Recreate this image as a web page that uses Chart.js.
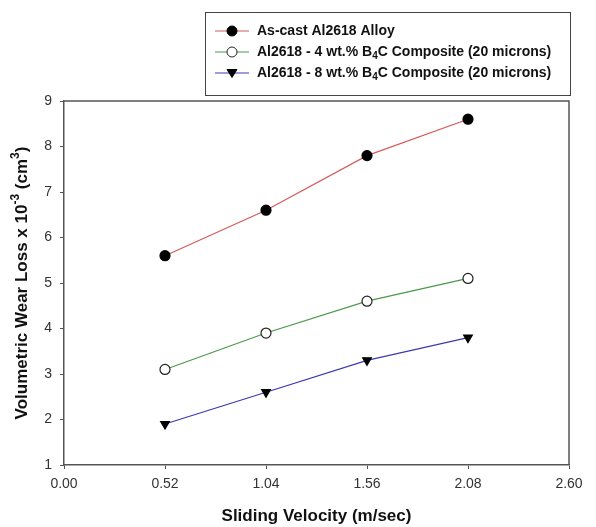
<!DOCTYPE html>
<html>
<head>
<meta charset="utf-8">
<script src="https://cdn.jsdelivr.net/npm/chart.js@4.4.1/dist/chart.umd.min.js"></script>
<style>
  html, body { margin: 0; padding: 0; background: #fff; }
  #wrap { width: 596px; height: 527px; }
</style>
</head>
<body>
<div id="wrap"><canvas id="wearChart" width="596" height="527"></canvas></div>
<script>
// sliding velocity (m/sec)
const velocities = [0.52, 1.04, 1.56, 2.08];
const xTickValues = [0, 0.52, 1.04, 1.56, 2.08, 2.60];
const yTickValues = [1, 2, 3, 4, 5, 6, 7, 8, 9];

// volumetric wear loss x 10^-3 (cm^3)
const asCast = [5.6, 6.6, 7.8, 8.6];
const comp4 = [3.1, 3.9, 4.6, 5.1];
const comp8 = [1.9, 2.6, 3.3, 3.8];

// legend labels, parts with sub = subscript
const legendLabels = [
    [{ t: 'As-cast Al2618 Alloy' }],
    [{ t: 'Al2618 - 4 wt.% B' }, { t: '4', sub: true }, { t: 'C Composite (20 microns)' }],
    [{ t: 'Al2618 - 8 wt.% B' }, { t: '4', sub: true }, { t: 'C Composite (20 microns)' }]
];

const FONT = '"Liberation Sans", Arial, Helvetica, sans-serif';
const axisColor = '#555';

function toPoints(values) {
    return values.map((v, i) => ({ x: velocities[i], y: v }));
}

// draws text made of pieces, some raised or lowered
function drawRichText(ctx, parts, x, y, size, align) {
    const smallSize = Math.round(size * 0.7);
    let total = 0;
    parts.forEach(p => {
        ctx.font = `bold ${p.sub || p.sup ? smallSize : size}px ${FONT}`;
        total += ctx.measureText(p.t).width;
    });
    let cx = align === 'center' ? x - total / 2 : x;
    ctx.textAlign = 'left';
    ctx.textBaseline = 'middle';
    parts.forEach(p => {
        ctx.font = `bold ${p.sub || p.sup ? smallSize : size}px ${FONT}`;
        let dy = 0;
        if (p.sup) dy = -size * 0.4;
        if (p.sub) dy = size * 0.3;
        ctx.fillText(p.t, cx, y + dy);
        cx += ctx.measureText(p.t).width;
    });
}

const decorPlugin = {
    id: 'decor',
    afterDraw(chart) {
        const ctx = chart.ctx;
        const area = chart.chartArea;
        ctx.save();

        // frame on top and right
        ctx.strokeStyle = axisColor;
        ctx.lineWidth = 1.5;
        ctx.beginPath();
        ctx.moveTo(area.left, area.top);
        ctx.lineTo(area.right, area.top);
        ctx.lineTo(area.right, area.bottom);
        ctx.stroke();

        // axis titles
        ctx.fillStyle = '#111';
        drawRichText(ctx, [{ t: 'Sliding Velocity (m/sec)' }], (area.left + area.right) / 2, 516, 17, 'center');

        ctx.save();
        ctx.translate(22, (area.top + area.bottom) / 2);
        ctx.rotate(-Math.PI / 2);
        drawRichText(ctx, [
            { t: 'Volumetric Wear Loss x 10' }, { t: '-3', sup: true },
            { t: ' (cm' }, { t: '3', sup: true }, { t: ')' }
        ], 0, 0, 17, 'center');
        ctx.restore();

        // legend box
        ctx.strokeStyle = '#444';
        ctx.lineWidth = 1;
        ctx.strokeRect(205.5, 12.5, 365, 83);
        chart.data.datasets.forEach((ds, i) => {
            const rowY = 31 + i * 21;
            ctx.strokeStyle = ds.borderColor;
            ctx.lineWidth = 1;
            ctx.beginPath();
            ctx.moveTo(215, rowY);
            ctx.lineTo(249, rowY);
            ctx.stroke();
            drawMarker(ctx, ds, 232, rowY);
            ctx.fillStyle = '#111';
            drawRichText(ctx, legendLabels[i], 257, rowY, 14, 'left');
        });
        ctx.restore();
    }
};

function drawMarker(ctx, ds, x, y) {
    ctx.fillStyle = ds.pointBackgroundColor;
    ctx.strokeStyle = ds.pointBorderColor;
    ctx.lineWidth = 1;
    ctx.beginPath();
    if (ds.pointStyle === 'triangle') {
        const r = ds.pointRadius;
        ctx.moveTo(x - r, y - r * 0.7);
        ctx.lineTo(x + r, y - r * 0.7);
        ctx.lineTo(x, y + r * 0.9);
        ctx.closePath();
    } else {
        ctx.arc(x, y, ds.pointRadius, 0, Math.PI * 2);
    }
    ctx.fill();
    ctx.stroke();
}

new Chart(document.getElementById('wearChart'), {
    type: 'line',
    data: {
        datasets: [{
            label: 'As-cast Al2618 Alloy',
            data: toPoints(asCast),
            borderColor: '#d45a5a',
            borderWidth: 1.2,
            pointStyle: 'circle',
            pointRadius: 5,
            pointBackgroundColor: '#000',
            pointBorderColor: '#000'
        }, {
            label: 'Al2618 - 4 wt.% B4C Composite (20 microns)',
            data: toPoints(comp4),
            borderColor: '#4a9a4a',
            borderWidth: 1.2,
            pointStyle: 'circle',
            pointRadius: 5,
            pointBackgroundColor: '#fff',
            pointBorderColor: '#222'
        }, {
            label: 'Al2618 - 8 wt.% B4C Composite (20 microns)',
            data: toPoints(comp8),
            borderColor: '#3a3ab0',
            borderWidth: 1.2,
            pointStyle: 'triangle',
            pointRotation: 180,
            pointRadius: 5,
            pointBackgroundColor: '#000',
            pointBorderColor: '#000'
        }]
    },
    options: {
        responsive: false,
        animation: false,
        layout: { padding: { top: 101, right: 27, left: 0, bottom: 0 } },
        plugins: {
            legend: { display: false },
            tooltip: { enabled: false }
        },
        scales: {
            x: {
                type: 'linear',
                min: 0,
                max: 2.6,
                afterFit(scale) { scale.height = 62; },
                afterBuildTicks(scale) { scale.ticks = xTickValues.map(v => ({ value: v })); },
                ticks: {
                    color: '#333',
                    font: { family: FONT, size: 14 },
                    padding: 7,
                    maxRotation: 0,
                    autoSkip: false,
                    callback: v => v.toFixed(2)
                },
                grid: { drawOnChartArea: false, drawTicks: true, tickLength: 4, tickColor: axisColor },
                border: { display: true, color: axisColor, width: 1.5 }
            },
            y: {
                type: 'linear',
                min: 1,
                max: 9,
                afterFit(scale) { scale.width = 64; },
                afterBuildTicks(scale) { scale.ticks = yTickValues.map(v => ({ value: v })); },
                ticks: {
                    color: '#333',
                    font: { family: FONT, size: 14 },
                    padding: 8,
                    autoSkip: false
                },
                grid: { drawOnChartArea: false, drawTicks: true, tickLength: 4, tickColor: axisColor },
                border: { display: true, color: axisColor, width: 1.5 }
            }
        }
    },
    plugins: [decorPlugin]
});
</script>
</body>
</html>
